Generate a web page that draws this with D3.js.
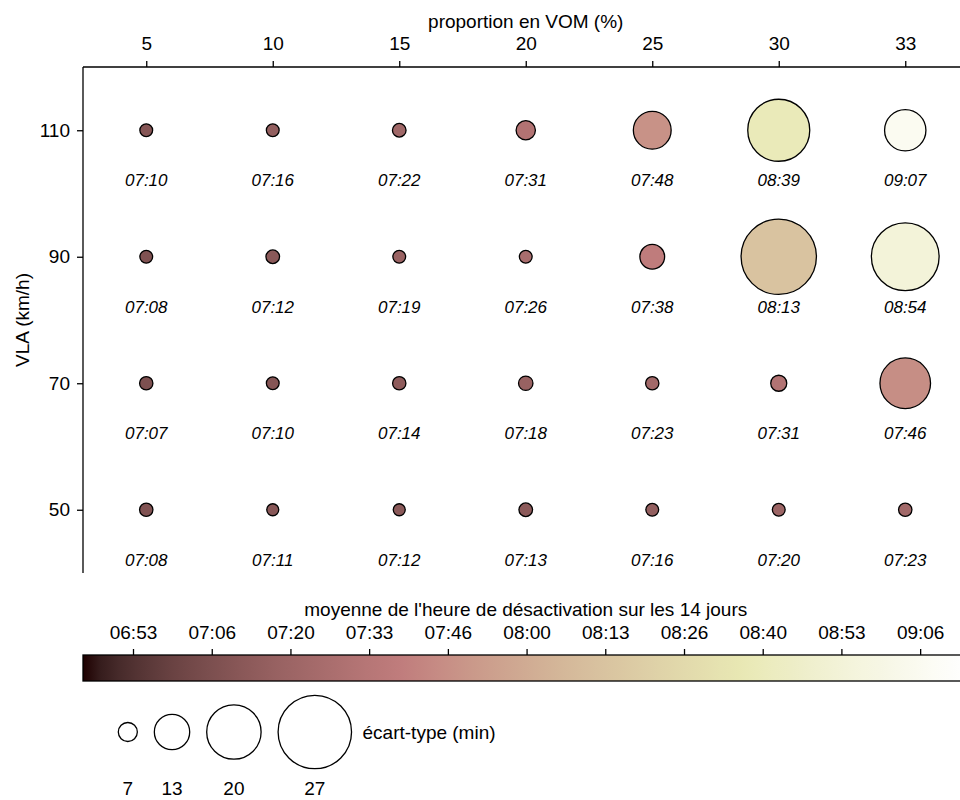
<!DOCTYPE html>
<meta charset="utf-8">
<style>
    body { margin: 0; background: #fff; }
    text { font-family: "Liberation Sans", Arial, sans-serif; fill: #000; }
    .axis path, .axis line { stroke: #000; stroke-width: 1.3px; }
    .axis text { font-size: 19px; }
    .times { font-size: 17px; font-style: italic; }
</style>
<svg id="svg" width="960" height="800"></svg>
<script src="https://d3js.org/d3.v7.min.js"></script>
<script>

    // categories
    var vom = [5, 10, 15, 20, 25, 30, 33];      // proportion en VOM (%)
    var vla = [110, 90, 70, 50];                // VLA (km/h)

    // mean deactivation time, one row per VLA
    var meanTime = [
        ["07:10", "07:16", "07:22", "07:31", "07:48", "08:39", "09:07"],
        ["07:08", "07:12", "07:19", "07:26", "07:38", "08:13", "08:54"],
        ["07:07", "07:10", "07:14", "07:18", "07:23", "07:31", "07:46"],
        ["07:08", "07:11", "07:12", "07:13", "07:16", "07:20", "07:23"]
    ];

    // standard deviation (min), one row per VLA
    var stdMin = [
        [4.7, 4.7, 5.0, 7.1, 13.9, 22.8, 15.2],
        [4.7, 5.0, 4.7, 4.7, 9.1, 27.7, 24.9],
        [4.9, 4.7, 4.9, 5.3, 4.9, 5.9, 18.6],
        [4.9, 4.4, 4.4, 5.0, 4.7, 4.7, 4.9]
    ];

    // colour bar limits (minutes after midnight) and ticks
    var colorMin = 404.86, colorMax = 554.86;
    var cbTickValues = [413.33, 426.67, 440, 453.33, 466.67, 480, 493.33, 506.67, 520, 533.33, 546.67];
    var cbTickLabels = ["06:53", "07:06", "07:20", "07:33", "07:46", "08:00", "08:13", "08:26", "08:40", "08:53", "09:06"];

    // size legend
    var legendSizes = [7, 13, 20, 27];

    var svg = d3.select("svg");

    var mLeft = 83, mRight = 968.5, mTop = 67, mBottom = 573;

    function toMin(s) {
        var p = s.split(":");
        return +p[0] * 60 + +p[1];
    }

    // matplotlib "pink" colormap : sqrt((2*gray + hot)/3)
    function pink(t) {
        t = Math.max(0, Math.min(1, t));
        var hr = t < 0.365079 ? 0.0416 + t * (1 - 0.0416) / 0.365079 : 1;
        var hg = t < 0.365079 ? 0 : (t < 0.746032 ? (t - 0.365079) / (0.746032 - 0.365079) : 1);
        var hb = t < 0.746032 ? 0 : (t - 0.746032) / (1 - 0.746032);
        var f = function (h) { return Math.round(255 * Math.sqrt((2 * t + h) / 3)); };
        return "rgb(" + f(hr) + "," + f(hg) + "," + f(hb) + ")";
    }

    var norm = d3.scaleLinear().domain([colorMin, colorMax]).range([0, 1]);
    var color = function (m) { return pink(norm(m)); };

    var x = d3.scalePoint().domain(vom).range([mLeft, mRight]).padding(0.5);
    var y = d3.scalePoint().domain(vla).range([mTop, mBottom]).padding(0.5);
    var r = d3.scaleLinear().domain([0, 1]).range([0, 1.36]);

    // flatten data
    var points = [];
    vla.forEach(function (v, i) {
        vom.forEach(function (p, j) {
            points.push({vla: v, vom: p, time: meanTime[i][j], std: stdMin[i][j]});
        });
    });

    // axes
    var xAxis = svg.append("g")
        .attr("class", "axis")
        .attr("transform", "translate(0," + mTop + ")")
        .call(d3.axisTop(x).tickSize(6).tickPadding(11).tickSizeOuter(0));
    xAxis.select(".domain").attr("d", "M" + mLeft + ",0H" + mRight);

    var yAxis = svg.append("g")
        .attr("class", "axis")
        .attr("transform", "translate(" + mLeft + ",0)")
        .call(d3.axisLeft(y).tickSize(6).tickPadding(7).tickSizeOuter(0));
    yAxis.select(".domain").attr("d", "M0," + mTop + "V" + mBottom);
    svg.selectAll(".axis .tick text").attr("fill", "#000");

    svg.append("text")
        .attr("x", (mLeft + mRight) / 2)
        .attr("y", 28)
        .attr("text-anchor", "middle")
        .style("font-size", "19px")
        .text("proportion en VOM (%)");

    svg.append("text")
        .attr("transform", "translate(29," + (mTop + mBottom) / 2 + ") rotate(-90)")
        .attr("text-anchor", "middle")
        .style("font-size", "19px")
        .text("VLA (km/h)");

    // bubbles
    svg.append("g").selectAll("circle")
        .data(points)
        .enter().append("circle")
        .attr("cx", function (d) { return x(d.vom); })
        .attr("cy", function (d) { return y(d.vla); })
        .attr("r", function (d) { return r(d.std); })
        .attr("fill", function (d) { return color(toMin(d.time)); })
        .attr("stroke", "#000")
        .attr("stroke-width", 1.3);

    svg.append("g").selectAll("text")
        .data(points)
        .enter().append("text")
        .attr("class", "times")
        .attr("x", function (d) { return x(d.vom); })
        .attr("y", function (d) { return y(d.vla) + 56; })
        .attr("text-anchor", "middle")
        .text(function (d) { return d.time; });

    // colour bar
    var cbTop = 655, cbH = 26;
    var cbX = d3.scaleLinear().domain([colorMin, colorMax]).range([mLeft, mRight]);

    var grad = svg.append("defs").append("linearGradient")
        .attr("id", "cbgrad")
        .attr("x1", "0%").attr("x2", "100%").attr("y1", "0%").attr("y2", "0%");
    d3.range(0, 1.0001, 0.02).forEach(function (t) {
        grad.append("stop")
            .attr("offset", (t * 100) + "%")
            .attr("stop-color", pink(t));
    });

    svg.append("rect")
        .attr("x", mLeft)
        .attr("y", cbTop)
        .attr("width", mRight - mLeft)
        .attr("height", cbH)
        .attr("fill", "url(#cbgrad)")
        .attr("stroke", "#000")
        .attr("stroke-width", 1.3);

    var cbAxis = svg.append("g")
        .attr("class", "axis")
        .attr("transform", "translate(0," + cbTop + ")")
        .call(d3.axisTop(cbX)
            .tickValues(cbTickValues)
            .tickFormat(function (d, i) { return cbTickLabels[i]; })
            .tickSize(6).tickPadding(10).tickSizeOuter(0));
    cbAxis.select(".domain").remove();
    cbAxis.selectAll("text").attr("fill", "#000");

    svg.append("text")
        .attr("x", (mLeft + mRight) / 2)
        .attr("y", 616)
        .attr("text-anchor", "middle")
        .style("font-size", "19px")
        .text("moyenne de l'heure de désactivation sur les 14 jours");

    // size legend
    var legY = 732, gap = 17, cx = 118.3;
    var legend = svg.append("g");
    legendSizes.forEach(function (s) {
        var rr = r(s);
        cx += rr;
        legend.append("circle")
            .attr("cx", cx)
            .attr("cy", legY)
            .attr("r", rr)
            .attr("fill", "none")
            .attr("stroke", "#000")
            .attr("stroke-width", 1.3);
        legend.append("text")
            .attr("x", cx)
            .attr("y", 795)
            .attr("text-anchor", "middle")
            .style("font-size", "19px")
            .text(s);
        cx += rr + gap;
    });
    legend.append("text")
        .attr("x", cx - gap + 11)
        .attr("y", legY + 7)
        .style("font-size", "19px")
        .text("écart-type (min)");

</script>
